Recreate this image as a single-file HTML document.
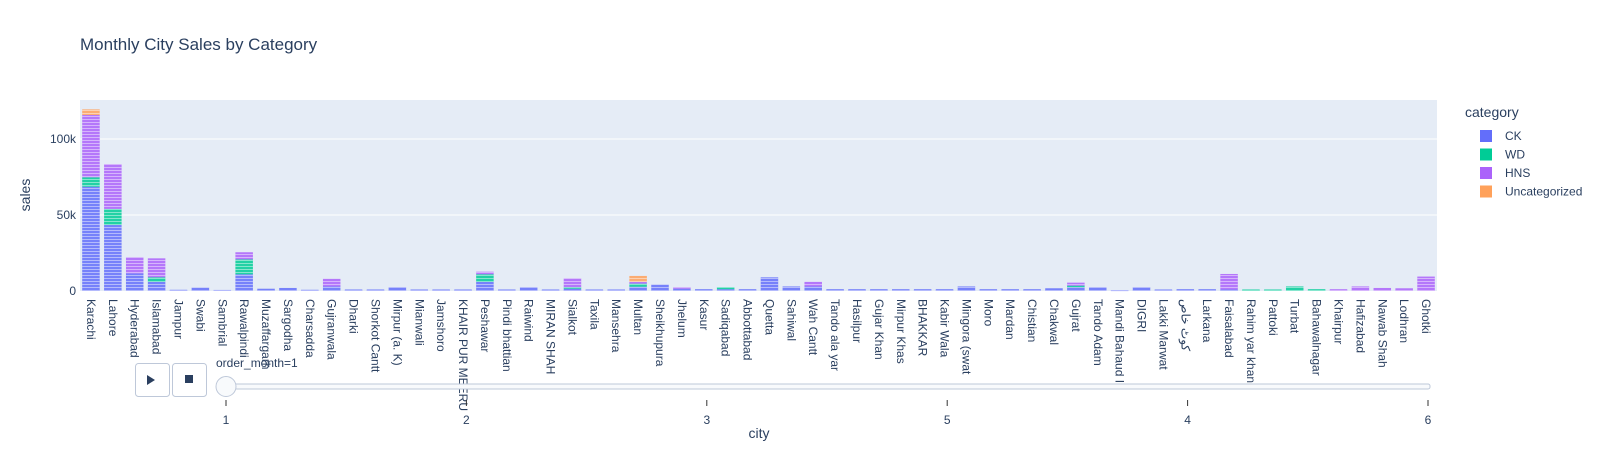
<!DOCTYPE html>
<html><head><meta charset="utf-8"><style>
body{margin:0;background:#fff;}
svg{display:block;font-family:"Liberation Sans","Noto Sans CJK SC",sans-serif;}
</style></head><body>
<svg id="chart" width="1608" height="450">
<defs>
<pattern id="stripe" width="4" height="3" patternUnits="userSpaceOnUse"><rect width="4" height="1" y="2" fill="#fff" fill-opacity="0.45"/></pattern>
</defs>
<text x="80" y="50" font-size="17" fill="#2a3f5f">Monthly City Sales by Category</text>
<rect x="80" y="100" width="1357" height="191" fill="#e5ecf6"/>
<g id="grid"></g>
<g id="bars"></g>
<g id="xlabels"></g>
<text transform="translate(30,195) rotate(-90)" text-anchor="middle" font-size="14" fill="#2a3f5f">sales</text>
<text x="759" y="438" text-anchor="middle" font-size="14" fill="#2a3f5f">city</text>
<g>
<text x="1465" y="117" font-size="14" fill="#2a3f5f">category</text>
<g id="legend"></g>
</g>
<g>
<g><rect x="135.5" y="363.5" width="34" height="33" rx="3" fill="#fff" stroke="#bec8d9"/><path d="M147 375 L155 380 L147 385 Z" fill="#2a3f5f"/></g>
<g><rect x="172.5" y="363.5" width="34" height="33" rx="3" fill="#fff" stroke="#bec8d9"/><rect x="185" y="375" width="8" height="8" fill="#2a3f5f"/></g>
<text x="216" y="367" font-size="12" fill="#2a3f5f">order_month=1</text>
<rect x="226" y="384" width="1204" height="5" rx="2" fill="#f8fafc" stroke="#bec8d9"/>
<g id="sticks"></g>
<circle cx="226" cy="386.5" r="10" fill="#f8fafc" stroke="#bec8d9"/>
</g>
</svg>
<script>
const cities=["Karachi","Lahore","Hyderabad","Islamabad","Jampur","Swabi","Sambrial","Rawalpindi","Muzaffargarh","Sargodha","Charsadda","Gujranwala","Dharki","Shorkot Cantt","Mirpur (a. K)","Mianwali","Jamshoro","KHAIR PUR MEERU","Peshawar","Pindi bhattian","Raiwind","MIRAN SHAH","Sialkot","Taxila","Mansehra","Multan","Sheikhupura","Jhelum","Kasur","Sadiqabad","Abbottabad","Quetta","Sahiwal","Wah Cantt","Tando ala yar","Hasilpur","Gujar Khan","Mirpur Khas","BHAKKAR","Kabir Wala","Mingora (swat","Moro","Mardan","Chistian","Chakwal","Gujrat","Tando Adam","Mandi Bahaud In","DIGRI","Lakki Marwat","کوٹ خاص","Larkana","Faisalabad","Rahim yar khan","Pattoki","Turbat","Bahawalnagar","Khairpur","Hafizabad","Nawab Shah","Lodhran","Ghotki"];
const ck=[68.6,43.4,11.6,6,0.8,2.3,0.7,11,1.5,2,0.8,3,1,1,2.5,1,1,1,6,1,2.5,1,1.5,1,1,2.8,4.2,1.5,1.2,1.2,1.2,9,3,3,1.2,1.2,1.2,1.2,1.2,1.2,3,1.2,1.2,1.2,1.8,2.5,2.5,0.6,2.5,1,1.2,1.2,1,0,0,0,0,0,0,0,0,0];
const wd=[6.2,10.6,0,3,0,0,0,9.8,0,0,0,0,0,0,0,0,0,0,5,0,0,0,1,0,0,2,0,0,0,1.3,0,0,0,0,0,0,0,0,0,0,0,0,0,0,0,1,0,0,0,0,0,0,0,1,1,3,1.2,0,0,0,0,0];
const hns=[41,29.5,10.6,12.5,0,0,0,4.7,0,0,0,5,0,0,0,0,0,0,1.7,0,0,0,5.8,0,0,1.2,0,1,0,0,0,0,0,3,0,0,0,0,0,0,0,0,0,0,0,2,0,0,0,0,0,0,10.2,0,0,0,0,1.2,3,2,1.8,9.5];
const unc=[3.7,0,0,0,0,0,0,0,0,0,0,0,0,0,0,0,0,0,0,0,0,0,0,0,0,3.9,0,0,0,0,0,0,0,0,0,0,0,0,0,0,0,0,0,0,0,0,0,0,0,0,0,0,0,0,0,0,0,0,0,0,0,0];
const yTicks=[0,50,100];
const yTickLabels=["0","50k","100k"];
const sliderSteps=["1","2","3","5","4","6"];
const seriesNames=["CK","WD","HNS","Uncategorized"];
const colors=["#636efa","#00cc96","#ab63fa","#FFA15A"];

const NS="http://www.w3.org/2000/svg";
const X0=80,X1=1437,Y0=291,PXK=1.52;
const bw=(X1-X0)/cities.length;
const xs=i=>X0+bw*(i+0.5);
const ys=v=>Y0-v*PXK;
function mk(tag,attrs,parent){const e=document.createElementNS(NS,tag);for(const k in attrs)e.setAttribute(k,attrs[k]);parent.appendChild(e);return e;}
const grid=document.getElementById('grid');
yTicks.forEach((t,i)=>{
  if(t>0){const l=mk('line',{x1:X0,x2:X1,y1:ys(t),y2:ys(t),stroke:'#fff','stroke-width':1},grid);
  
  }
  const tx=mk('text',{x:76,y:ys(t)+4,'text-anchor':'end','font-size':12,fill:'#2a3f5f'},grid);
  tx.textContent=yTickLabels[i];
  
  
});
const bars=document.getElementById('bars');
const series=[ck,wd,hns,unc];
cities.forEach((c,i)=>{
  let base=0;
  series.forEach((s,k)=>{
    const v=s[i];if(!v)return;
    const y1=ys(base+v),y2=ys(base);
    const g=mk('g',{},bars);
    
    
    mk('rect',{x:xs(i)-bw*0.4,y:y1,width:bw*0.8,height:Math.max(y2-y1,1),fill:colors[k],'fill-opacity':0.85},g);
    mk('rect',{x:xs(i)-bw*0.4,y:y1,width:bw*0.8,height:Math.max(y2-y1,1),fill:'url(#stripe)'},g);
    base+=v;
  });
});
const xl=document.getElementById('xlabels');
cities.forEach((c,i)=>{
  const t=mk('text',{transform:`translate(${xs(i)-4},299) rotate(90)`,'font-size':12,fill:'#2a3f5f'},xl);
  t.textContent=c;
  
  
});
const lg=document.getElementById('legend');
seriesNames.forEach((n,i)=>{
  const y=136+i*18.5;
  const r=mk('rect',{x:1480,y:y-6,width:12,height:12,fill:colors[i]},lg);
  
  
  const t=mk('text',{x:1505,y:y+4,'font-size':12,fill:'#2a3f5f'},lg);
  t.textContent=n;
  
  
});
const st=document.getElementById('sticks');
sliderSteps.forEach((s,i)=>{
  const x=226+i*240.4;
  const l=mk('line',{x1:x,x2:x,y1:400,y2:406,stroke:'#333','stroke-width':1},st);
  
  
  const t=mk('text',{x:x,y:424,'text-anchor':'middle','font-size':12,fill:'#2a3f5f'},st);
  t.textContent=s;
  
  
});
</script>
</body></html>
